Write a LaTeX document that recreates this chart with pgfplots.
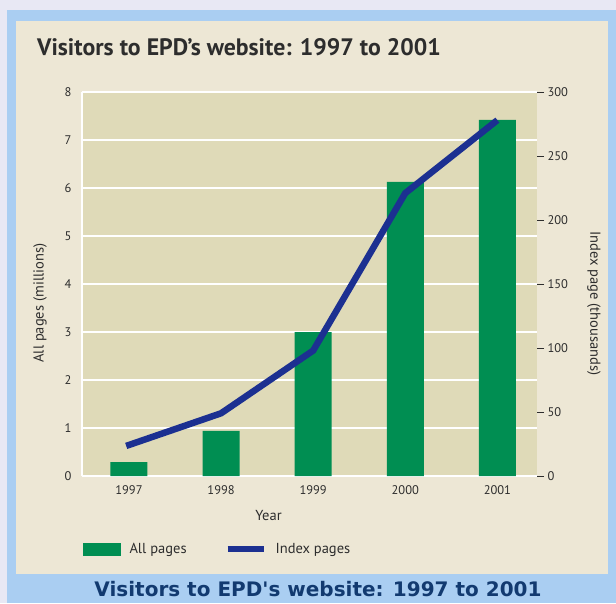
\documentclass[border=0pt]{standalone}
\usepackage{pgfplots}
\pgfplotsset{compat=1.18}
\usepackage{fontspec}
\setmainfont{PT Sans}
\newfontfamily\capfont{DejaVu Sans}
\definecolor{outerbg}{RGB}{232,232,244}
\definecolor{frameblue}{RGB}{170,206,242}
\definecolor{panel}{RGB}{237,231,213}
\definecolor{plotbg}{RGB}{223,218,184}
\definecolor{bargreen}{RGB}{0,142,82}
\definecolor{lineblue}{RGB}{28,48,145}
\definecolor{captxt}{RGB}{18,58,112}
\definecolor{txt}{RGB}{45,45,45}
\begin{document}
\begin{tikzpicture}[x=1pt,y=1pt]
\fill[outerbg] (0,0) rectangle (616,603);
\fill[frameblue] (7,0) rectangle (616,593);
\fill[panel] (16,29) rectangle (608,582);
\node[anchor=west, inner sep=0pt, font=\fontsize{23.8}{27}\selectfont\bfseries, text=txt] at (37,556) {Visitors to EPD's website: 1997 to 2001};
\node[font=\capfont\fontsize{20}{23}\selectfont\bfseries, text=captxt] at (318,14) {Visitors to EPD's website: 1997 to 2001};

\begin{axis}[at={(82pt,127pt)}, anchor=south west, scale only axis,
  width=455pt, height=384pt,
  xmin=-0.51, xmax=4.43, ymin=0, ymax=8,
  axis background/.style={fill=plotbg},
  axis x line*=bottom, axis y line*=left,
  axis line style={draw=white, line width=1.5pt},
  ytick={0,1,...,8}, ymajorgrids, grid style={white, line width=1.5pt},
  major tick length=0pt,
  xtick={0,1,2,3,4}, xticklabels={1997,1998,1999,2000,2001},
  /pgf/number format/assume math mode=true,
  tick label style={font=\fontsize{12.5}{14}\selectfont, text=txt},
  xticklabel style={yshift=-6pt},
  yticklabel style={xshift=-7pt},
  ylabel={All pages (millions)},
  ylabel style={at={(axis description cs:-0.092,0.45)}, anchor=center, font=\fontsize{14.5}{16}\selectfont, text=txt},
  xlabel={Year},
  xlabel style={at={(axis description cs:0.41,-0.103)}, anchor=center, font=\fontsize{14.5}{16}\selectfont, text=txt},
  clip=false,
]
\addplot[ybar, bar width=37pt, fill=bargreen, draw=none] coordinates {(0,0.29) (1,0.94) (2,3.0) (3,6.13) (4,7.42)};
\end{axis}

\begin{axis}[at={(82pt,127pt)}, anchor=south west, scale only axis,
  width=455pt, height=384pt,
  xmin=-0.51, xmax=4.43, ymin=0, ymax=300,
  axis x line=none, axis y line*=right,
  axis line style={draw=none},
  ytick={0,50,...,300},
  ytick style={draw=txt, line width=0.9pt},
  major tick length=7pt, tick align=outside, tick pos=right,
  /pgf/number format/assume math mode=true,
  tick label style={font=\fontsize{12.5}{14}\selectfont, text=txt},
  yticklabel style={xshift=0pt},
  ylabel={Index page (thousands)},
  ylabel style={at={(axis description cs:1.125,0.45)}, anchor=center, rotate=180, font=\fontsize{14.5}{16}\selectfont, text=txt},
  legend columns=2,
  legend style={draw=none, fill=none, inner sep=0pt, at={(axis description cs:0.002,-0.19)}, anchor=west,
    font=\fontsize{14.5}{16}\selectfont, text=txt,
    /tikz/every even column/.append style={column sep=36pt},
    /tikz/every odd column/.append style={column sep=7pt}},
  legend cell align=left,
  clip=false,
]
\addlegendimage{legend image code/.code={\fill[bargreen] (0pt,-6pt) rectangle (37pt,6pt);}}
\addlegendentry{All pages}
\addplot[lineblue, line width=6.5pt, legend image code/.code={\draw[lineblue, line width=6pt] (0pt,0pt) -- (36pt,0pt);}] coordinates {(-0.03,23.5) (1,49) (2,98) (3,221) (4,278)};
\addlegendentry{Index pages}
\end{axis}
\end{tikzpicture}
\end{document}
